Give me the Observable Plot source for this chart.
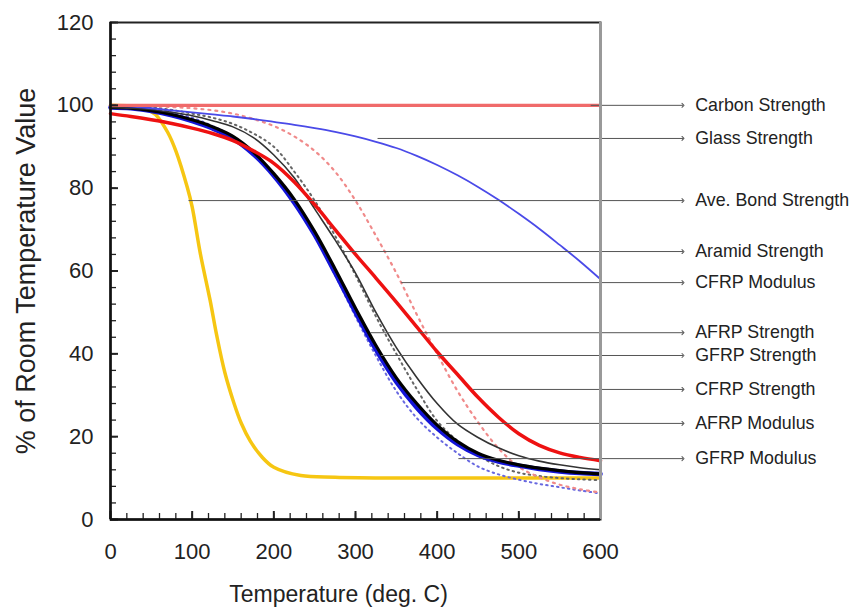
<!DOCTYPE html>
<html><head><meta charset="utf-8">
<script src="https://cdn.jsdelivr.net/npm/d3@7"></script>
<script src="https://cdn.jsdelivr.net/npm/@observablehq/plot@0.6"></script>
<style>body{margin:0;background:#fff;} #chart{width:852px;height:613px;}</style>
</head><body><div id="chart"></div>
<script>
// Temperature grid (deg. C)
const temps = [0,25,50,75,100,125,150,175,200,225,250,275,300,325,350,375,400,425,450,475,500,525,550,575,600];

const carbonStrength = [100,100,100,100,100,100,100,100,100,100,100,100,100,100,100,100,100,100,100,100,100,100,100,100,100];
const glassStrength  = [100,99.7,99.3,98.8,98.3,97.8,97.3,96.7,96,95.3,94.5,93.6,92.5,91.2,89.7,87.8,85.6,83.1,80.3,77.2,73.8,70.2,66.3,62.3,58];
const cfrpModulus    = [100,99.9,99.8,99.6,99.3,98.8,98,96.7,95,92.5,89,84,77,68.5,59.5,49.5,40,31,23.5,17.2,12.7,10.2,8.4,7.3,6.5];
const aramidStrength = [98,97.3,96.5,95.6,94.5,93.2,91.5,89,86,81.5,76,70,64,58.3,52.5,46.5,40.5,35,29.5,24.7,20.7,17.9,16.1,15,14.2];
const afrpStrength   = [99.5,99.3,98.7,97.8,96.5,94.8,92.5,88.7,83.5,77.3,69.5,60.5,51,42,34.2,28,22.8,18.8,16,14.3,13.2,12.4,11.8,11.3,11];
const gfrpStrength   = [99.5,99.3,98.6,97.6,96.2,94.4,92,88.2,83,76.5,68.7,59.5,50,41,33.2,27,22,18.2,15.6,14,13,12.2,11.6,11.2,11];
const cfrpStrength   = [99.5,99.3,99,98.3,97.5,96.3,94.8,92.2,88,82.5,75,67.5,59.5,50,41.5,34.3,28,23,19.8,17.3,15.4,14.1,13.2,12.5,12];
const afrpModulus    = [100,99.8,99.5,98.9,98,97,95.5,93.2,90,84,77,68.5,59,49,40,31.5,23.8,19,15.5,12.9,11.3,10.5,10,9.7,9.5];
const gfrpModulus    = [100,99.8,99.3,98.3,97,95,92.5,88.5,83,76.5,68.5,59,49,39.5,31,24.5,19.8,16,12.8,10.9,9.6,8.6,7.8,7,6.3];

// Ave. bond strength has its own finer temperature grid
const bondTemps    = [0,25,40,55,70,80,94,100,110,122,130,140,151,160,171,185,200,233,275,350,450,600];
const bondStrength = [100,99.8,99.4,97.8,93.5,89,80.2,75.5,64.2,52.9,44.5,35.5,28.2,23.3,19,15.2,12.6,10.6,10.2,10,10,10];

// Annotation callouts
const annLabels = ["Carbon Strength","Glass Strength","Ave. Bond Strength","Aramid Strength","CFRP Modulus","AFRP Strength","GFRP Strength","CFRP Strength","AFRP Modulus","GFRP Modulus"];
const annY      = [100,92,77,64.7,57.2,45.1,39.6,31.4,23.2,14.7];
const annStartT = [588,327,95.5,284,356,318,331,444,411,426];

const xTicks = [0,100,200,300,400,500,600];
const yTicks = [0,20,40,60,80,100,120];

const rows = (ts, vs) => ts.map((t, i) => ({t, v: vs[i]}));

const lineStyles = [
  {data: rows(bondTemps, bondStrength), stroke: "#f6c612", strokeWidth: 3.5},
  {data: rows(temps, gfrpModulus), stroke: "#6868e0", strokeWidth: 2, strokeDasharray: "1.5,4", strokeLinecap: "round"},
  {data: rows(temps, afrpModulus), stroke: "#666", strokeWidth: 2, strokeDasharray: "1.5,4", strokeLinecap: "round"},
  {data: rows(temps, cfrpModulus), stroke: "#f08a8a", strokeWidth: 2.2, strokeDasharray: "2,5", strokeLinecap: "round"},
  {data: rows(temps, gfrpStrength), stroke: "#1414d8", strokeWidth: 4.5},
  {data: rows(temps, afrpStrength), stroke: "#000", strokeWidth: 3.2},
  {data: rows(temps, cfrpStrength), stroke: "#333", strokeWidth: 1.6},
  {data: rows(temps, aramidStrength), stroke: "#ee1111", strokeWidth: 3.5},
  {data: rows(temps, glassStrength), stroke: "#4a4ae8", strokeWidth: 1.8},
  {data: rows(temps, carbonStrength), stroke: "#f06a6a", strokeWidth: 3.2}
];

const idx = annLabels.map((d, i) => i);

const plot = Plot.plot({
  width: 852,
  height: 613,
  marginLeft: 110,
  marginRight: 252,
  marginTop: 22,
  marginBottom: 94,
  style: {fontFamily: "'Liberation Sans', Arial, sans-serif", color: "#222", background: "#fff"},
  x: {domain: [0, 600]},
  y: {domain: [0, 120]},
  marks: [
    ...lineStyles.map(s => Plot.line(s.data, {x: "t", y: "v", curve: "catmull-rom",
      stroke: s.stroke, strokeWidth: s.strokeWidth, strokeDasharray: s.strokeDasharray,
      strokeLinecap: s.strokeLinecap})),
    Plot.link(idx, {x1: i => annStartT[i], x2: 701, y1: i => annY[i], y2: i => annY[i],
      stroke: "#555", strokeWidth: 1, markerEnd: "arrow"}),
    Plot.text(idx, {x: 716, y: i => annY[i], text: i => annLabels[i], textAnchor: "start",
      fontSize: 17.8, fill: "#222"}),
    // inward minor ticks
    Plot.axisY({ticks: d3.range(0, 121, 4), tickSize: -6, tickFormat: () => "", label: null, strokeWidth: 1.3}),
    Plot.axisX({ticks: d3.range(0, 601, 20), tickSize: -6, tickFormat: () => "", label: null, strokeWidth: 1.3}),
    Plot.axisY({ticks: yTicks, tickSize: -8, tickFormat: () => "", label: null, strokeWidth: 2}),
    Plot.axisX({ticks: xTicks, tickSize: -8, tickFormat: () => "", label: null, strokeWidth: 2}),
    // tick labels
    Plot.axisY({ticks: yTicks, tickSize: 0, tickPadding: 17, fontSize: 22, label: null}),
    Plot.axisX({ticks: xTicks, tickSize: 0, tickPadding: 24, fontSize: 22, label: null}),
    Plot.frame({stroke: "#222", strokeWidth: 2}),
    Plot.ruleX([600], {stroke: "#999", strokeWidth: 3}),
    Plot.ruleX([0], {stroke: "#111", strokeWidth: 2.5}),
    Plot.ruleY([0], {stroke: "#111", strokeWidth: 2.5}),
    Plot.text(["% of Room Temperature Value"], {frameAnchor: "left", dx: -84, rotate: -90, textAnchor: "middle", fontSize: 27, fill: "#222"}),
    Plot.text(["Temperature (deg. C)"], {frameAnchor: "bottom", dy: 82, dx: -17, fontSize: 23, fill: "#222"})
  ]
});
document.getElementById("chart").appendChild(plot);
</script>
</body></html>
